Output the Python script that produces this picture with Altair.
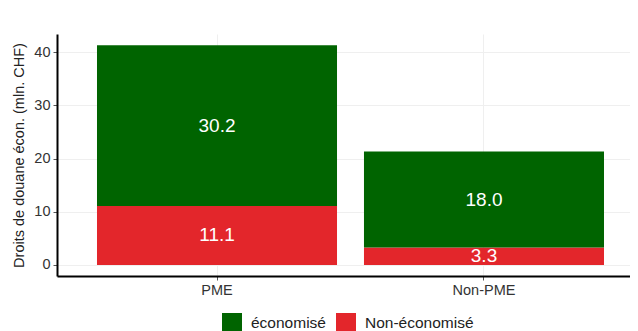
import altair as alt
import pandas as pd

categories = ["PME", "Non-PME"]
economise = [30.2, 18.0]
non_economise = [11.1, 3.3]
groups = ["économisé", "Non-économisé"]
colors = ["#006400", "#E3262B"]

rows = []
for i, c in enumerate(categories):
    rows.append({"cat": c, "grp": "Non-économisé", "val": non_economise[i], "ord": 0})
    rows.append({"cat": c, "grp": "économisé", "val": economise[i], "ord": 1})
df = pd.DataFrame(rows)

FONT = "Liberation Sans"

base = alt.Chart(df).transform_stack(
    stack="val", groupby=["cat"], as_=["y0", "y1"], sort=[alt.SortField("ord", order="ascending")]
).transform_calculate(mid="(datum.y0 + datum.y1) / 2")

xenc = alt.X(
    "cat:N",
    sort=categories,
    title=None,
    scale=alt.Scale(paddingInner=0.101, paddingOuter=0.1236, align=0.606),
    axis=alt.Axis(
        labelAngle=0, labelFontSize=14.5, labelColor="#333333", labelFont=FONT,
        domainColor="#000000", domainWidth=2, tickColor="#555555", tickSize=4,
        grid=True, gridColor="#efefef", labelPadding=3,
    ),
)
yscale = alt.Scale(domain=[-2.07, 43.4], nice=False, zero=False)

bars = base.mark_bar(stroke=None).encode(
    x=xenc,
    y=alt.Y(
        "y0:Q", scale=yscale,
        title="Droits de douane écon. (mln. CHF)",
        axis=alt.Axis(
            values=[0, 10, 20, 30, 40], labelFontSize=14.5, labelColor="#333333", labelFont=FONT,
            titleFontSize=14.5, titleFont=FONT, titleFontWeight="normal", titleColor="#222222",
            domainColor="#000000", domainWidth=2, tickColor="#555555", tickSize=4,
            gridColor="#efefef", labelPadding=3, titlePadding=7,
        ),
    ),
    y2="y1:Q",
    color=alt.Color(
        "grp:N",
        scale=alt.Scale(domain=groups, range=colors),
        title=None,
        legend=alt.Legend(
            orient="none", direction="horizontal", legendX=165, legendY=279,
            symbolType="square", symbolSize=400, symbolStrokeWidth=0,
            labelFontSize=15.5, labelFont=FONT, labelColor="#222222",
            columnPadding=10, symbolOffset=0, labelOffset=9,
        ),
    ),
)

labels = base.mark_text(color="white", fontSize=19, font=FONT).encode(
    x=alt.X("cat:N", sort=categories),
    y=alt.Y("mid:Q", scale=yscale),
    text=alt.Text("val:Q", format=".1f"),
)

chart = (
    alt.layer(bars, labels)
    .properties(
        width=573, height=242,
        autosize=alt.AutoSizeParams(type="none"),
        padding={"left": 49, "top": 26, "right": 0, "bottom": 55},
    )
    .configure_view(stroke=None)
)

chart.save("out.html", embed_options={"renderer": "svg", "actions": False})
